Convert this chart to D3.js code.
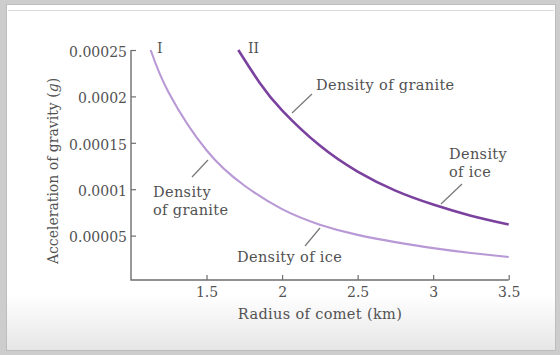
<!DOCTYPE html>
<html>
<head>
<meta charset="utf-8">
<script src="https://cdn.jsdelivr.net/npm/d3@7"></script>
<style>
	body { margin: 0; background: #cdcdcd; }
	svg { display: block; }
	text { font-family: 'DejaVu Serif', serif; font-size: 14px; fill: #525252; }
	text.note { font-size: 14.5px; letter-spacing: 0.35px; }
</style>
</head>
<body>
<div id="chart"></div>
<script>

// radius of comet (km) / acceleration of gravity
var radiusI = [1.13, 1.25, 1.5, 1.75, 2, 2.25, 2.5, 2.75, 3, 3.25, 3.5];
var gravityI = [0.00025, 0.000204, 0.000142, 0.000104, 0.0000785, 0.0000618, 0.0000508, 0.000043, 0.0000365, 0.0000313, 0.000027];

var radiusII = [1.71, 1.85, 2, 2.25, 2.5, 2.75, 3, 3.25, 3.5];
var gravityII = [0.00025, 0.000215, 0.000185, 0.000147, 0.000119, 0.0000985, 0.0000835, 0.0000715, 0.000062];

var xTicks = [1.5, 2, 2.5, 3, 3.5];
var xTickLabels = ['1.5', '2', '2.5', '3', '3.5'];
var yTicks = [0.00005, 0.0001, 0.00015, 0.0002, 0.00025];
var yTickLabels = ['0.00005', '0.0001', '0.00015', '0.0002', '0.00025'];

var width = 560, height = 355;

var svg = d3.select('#chart').append('svg')
		.attr('width', width)
		.attr('height', height);

var defs = svg.append('defs');
var grad = defs.append('linearGradient')
		.attr('id', 'fade')
		.attr('x1', 0).attr('y1', 0)
		.attr('x2', 0).attr('y2', 1);
grad.append('stop').attr('offset', '0%').attr('stop-color', '#ffffff');
grad.append('stop').attr('offset', '100%').attr('stop-color', '#e6e6e6');

// frame
svg.append('rect')
	.attr('x', 0).attr('y', 0)
	.attr('width', width).attr('height', height)
	.style('fill', '#cdcdcd');

svg.append('rect')
	.attr('x', 6.5).attr('y', 4.5)
	.attr('width', 549).attr('height', 346)
	.style('fill', '#ffffff')
	.style('stroke', '#bdbdbd')
	.style('stroke-width', 1);

svg.append('rect')
	.attr('x', 7).attr('y', 295)
	.attr('width', 548).attr('height', 55)
	.style('fill', 'url(#fade)');

svg.append('line')
	.attr('x1', 8).attr('y1', 10.5)
	.attr('x2', 554).attr('y2', 10.5)
	.style('stroke', '#dcdcdc')
	.style('stroke-width', 1);

var x = d3.scaleLinear()
		.domain([1, 3.5])
		.range([131, 508.7]);

var y = d3.scaleLinear()
		.domain([0, 0.00025])
		.range([282, 50]);

var axisY = 280;

var plot = svg.append('g');

// axes
var xAxis = d3.axisBottom(x)
		.tickValues(xTicks)
		.tickFormat(function(d, i) { return xTickLabels[i]; })
		.tickSizeInner(-5)
		.tickSizeOuter(0)
		.tickPadding(7);

var gx = plot.append('g')
		.attr('transform', 'translate(0,' + axisY + ')')
		.call(xAxis);

var yAxis = d3.axisLeft(y)
		.tickValues(yTicks)
		.tickFormat(function(d, i) { return yTickLabels[i]; })
		.tickSizeInner(-5)
		.tickSizeOuter(0)
		.tickPadding(4);

var gy = plot.append('g')
		.attr('transform', 'translate(' + x.range()[0] + ',0)')
		.call(yAxis);

[gx, gy].forEach(function(g) {
	g.select('.domain').remove();
	g.selectAll('line')
		.style('stroke', '#6e6e6e')
		.style('stroke-width', 1.2);
	g.selectAll('text')
		.attr('fill', null)
		.style('font-family', "'DejaVu Serif', serif")
		.style('font-size', '14px')
		.style('fill', '#525252');
});
gy.selectAll('text').attr('dy', '0.45em');

plot.append('path')
	.attr('d', 'M' + x.range()[0] + ',' + y(0.00025) + 'V' + axisY + 'H' + x.range()[1])
	.style('fill', 'none')
	.style('stroke', '#6e6e6e')
	.style('stroke-width', 1.4);

// curves
var line = d3.line()
		.x(function(d) { return x(d[0]); })
		.y(function(d) { return y(d[1]); })
		.curve(d3.curveNatural);

plot.append('path')
	.datum(d3.zip(radiusI, gravityI))
	.attr('d', line)
	.style('fill', 'none')
	.style('stroke', '#b899d5')
	.style('stroke-width', 2.1);

plot.append('path')
	.datum(d3.zip(radiusII, gravityII))
	.attr('d', line)
	.style('fill', 'none')
	.style('stroke', '#7b419f')
	.style('stroke-width', 2.6);

// labels
var labels = plot.append('g');

labels.append('text').attr('x', 157).attr('y', 53).text('I');
labels.append('text').attr('x', 248).attr('y', 53).text('II');

labels.append('text').attr('class', 'note').attr('x', 316).attr('y', 90).text('Density of granite');

labels.append('text').attr('class', 'note').attr('x', 449).attr('y', 159).text('Density');
labels.append('text').attr('class', 'note').attr('x', 449).attr('y', 177).text('of ice');

labels.append('text').attr('class', 'note').attr('x', 153).attr('y', 197).text('Density');
labels.append('text').attr('class', 'note').attr('x', 153).attr('y', 215).text('of granite');

labels.append('text').attr('class', 'note').attr('x', 237).attr('y', 262).text('Density of ice');

var leaders = [
	[292, 113, 312, 94],
	[441, 204, 462, 184],
	[208, 160, 192, 177],
	[320, 228, 305, 246]
];

labels.selectAll('line.leader')
	.data(leaders)
	.enter().append('line')
		.attr('class', 'leader')
		.attr('x1', function(d) { return d[0]; })
		.attr('y1', function(d) { return d[1]; })
		.attr('x2', function(d) { return d[2]; })
		.attr('y2', function(d) { return d[3]; })
		.style('stroke', '#777')
		.style('stroke-width', 1.2);

// axis titles
plot.append('text')
	.attr('class', 'note')
	.attr('x', 320)
	.attr('y', 319)
	.attr('text-anchor', 'middle')
	.text('Radius of comet (km)');

var yTitle = plot.append('text')
	.attr('transform', 'translate(58,171) rotate(-90)')
	.attr('text-anchor', 'middle');
yTitle.append('tspan').text('Acceleration of gravity (');
yTitle.append('tspan').style('font-style', 'italic').text('g');
yTitle.append('tspan').text(')');

</script>
</body>
</html>
